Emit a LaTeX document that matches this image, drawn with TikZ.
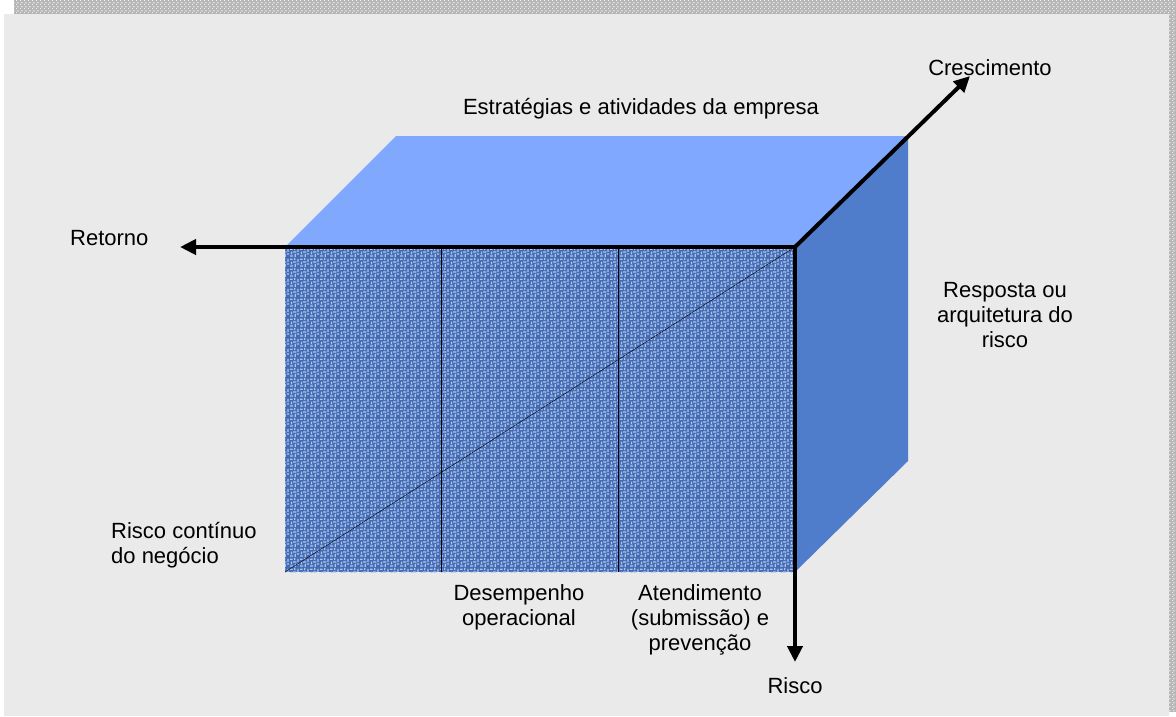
\documentclass[tikz,border=0pt]{standalone}
\usepackage{fontspec}
\setmainfont{Liberation Sans}
\usetikzlibrary{arrows.meta,patterns}

\definecolor{topblue}{HTML}{80A8FF}
\definecolor{sideblue}{HTML}{507CCC}
\definecolor{frontblue}{HTML}{466BB0}
\definecolor{weavelight}{HTML}{A9C6F4}
\definecolor{bggray}{HTML}{EAEAEA}
\definecolor{shadowgray}{HTML}{B4B4B4}

\pgfdeclarepatternformonly{weave}{\pgfqpoint{0pt}{0pt}}{\pgfqpoint{10pt}{10pt}}{\pgfqpoint{10pt}{10pt}}{%
  \pgfpathrectangle{\pgfqpoint{0pt}{0.5pt}}{\pgfqpoint{3.5pt}{1.4pt}}
  \pgfpathrectangle{\pgfqpoint{5pt}{0pt}}{\pgfqpoint{1.4pt}{3.5pt}}
  \pgfpathrectangle{\pgfqpoint{7.5pt}{2.5pt}}{\pgfqpoint{2.5pt}{1.4pt}}
  \pgfpathrectangle{\pgfqpoint{1pt}{3pt}}{\pgfqpoint{1.4pt}{3pt}}
  \pgfpathrectangle{\pgfqpoint{3.5pt}{4.8pt}}{\pgfqpoint{3.5pt}{1.4pt}}
  \pgfpathrectangle{\pgfqpoint{8pt}{5.5pt}}{\pgfqpoint{1.4pt}{3.5pt}}
  \pgfpathrectangle{\pgfqpoint{0pt}{7.8pt}}{\pgfqpoint{3pt}{1.4pt}}
  \pgfpathrectangle{\pgfqpoint{4.5pt}{7.5pt}}{\pgfqpoint{1.4pt}{2.5pt}}
  \pgfusepath{fill}}

\pgfdeclarepatternformonly{speckle}{\pgfqpoint{0pt}{0pt}}{\pgfqpoint{4pt}{4pt}}{\pgfqpoint{4pt}{4pt}}{%
  \pgfpathrectangle{\pgfqpoint{0pt}{0pt}}{\pgfqpoint{1pt}{1pt}}
  \pgfpathrectangle{\pgfqpoint{2pt}{1pt}}{\pgfqpoint{1pt}{1pt}}
  \pgfpathrectangle{\pgfqpoint{1pt}{2.5pt}}{\pgfqpoint{1pt}{1pt}}
  \pgfpathrectangle{\pgfqpoint{3pt}{3pt}}{\pgfqpoint{1pt}{1pt}}
  \pgfusepath{fill}}

\begin{document}
\begin{tikzpicture}[x=1pt, y=-1pt,
    every node/.style={font=\fontsize{22}{25}\selectfont, inner sep=0pt},
    axis/.style={line width=4pt, -{Triangle[length=16pt,width=15pt]}}]
  \useasboundingbox (0,0) rectangle (1176,716);
  \fill[shadowgray] (14,0) rectangle (1176,712);
  \fill[pattern=speckle, pattern color=white!92!gray] (14,0) rectangle (1176,712);
  \fill[bggray] (4,14) rectangle (1169,716);

  \coordinate (ftl) at (285,247);
  \coordinate (ftr) at (795,247);
  \coordinate (fbl) at (285,572);
  \coordinate (fbr) at (795,572);
  \coordinate (btl) at (396,136);
  \coordinate (btr) at (908,136);
  \coordinate (bbr) at (908,461);
  \coordinate (d1t) at (441,247);
  \coordinate (d1b) at (441,572);
  \coordinate (d2t) at (618,247);
  \coordinate (d2b) at (618,572);
  \coordinate (retornotip) at (180,247);
  \coordinate (crestip) at (970,76);
  \coordinate (riscotip) at (795,662);

  \fill[topblue] (ftl) -- (btl) -- (btr) -- (ftr) -- cycle;
  \fill[sideblue] (ftr) -- (btr) -- (bbr) -- (fbr) -- cycle;
  \fill[frontblue] (ftl) rectangle (fbr);
  \fill[pattern=weave, pattern color=weavelight] (ftl) rectangle (fbr);
  \draw (d1t) -- (d1b);
  \draw (d2t) -- (d2b);
  \draw (fbl) -- (ftr);

  \draw[axis] (ftr) -- (retornotip);
  \draw[axis] (ftr) -- (crestip);
  \draw[axis] (ftr) -- (riscotip);

  \node[anchor=base] (estrategias) at (641,114) {Estratégias e atividades da empresa};
  \node[anchor=base] (crescimento) at (990,75) {Crescimento};
  \node[anchor=base west] (retorno) at (70,245) {Retorno};
  \node[anchor=base, align=center] (resposta) at (1005,347) {Resposta ou\\arquitetura do\\risco};
  \node[anchor=base west, align=left] (continuo) at (111,563) {Risco contínuo\\do negócio};
  \node[anchor=base, align=center] (desempenho) at (519,625) {Desempenho\\operacional};
  \node[anchor=base, align=center] (atendimento) at (700,650) {Atendimento\\(submissão) e\\prevenção};
  \node[anchor=base] (risco) at (795,693) {Risco};
\end{tikzpicture}
\end{document}
